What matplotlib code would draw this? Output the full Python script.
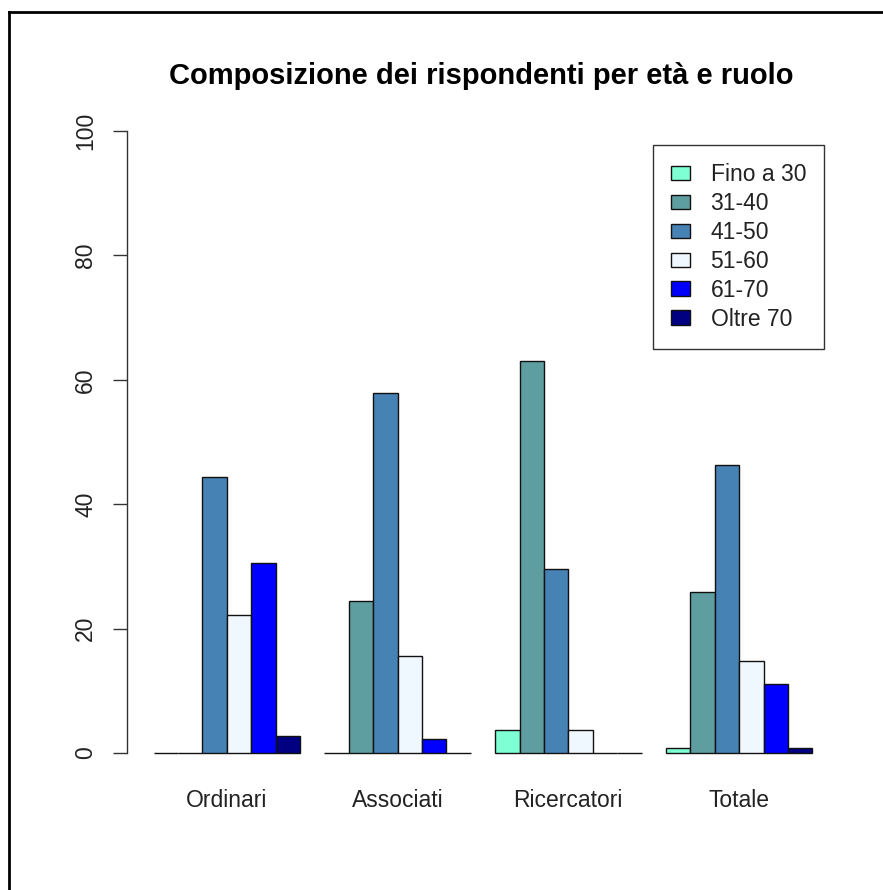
import matplotlib
matplotlib.use("Agg")
import matplotlib.pyplot as plt
import numpy as np

plt.rcParams['font.family'] = ['Liberation Sans', 'DejaVu Sans']

title = "Composizione dei rispondenti per età e ruolo"
categories = ["Ordinari", "Associati", "Ricercatori", "Totale"]
age_groups = ["Fino a 30", "31-40", "41-50", "51-60", "61-70", "Oltre 70"]
colors = ["#7FFFD4", "#5F9EA0", "#4682B4", "#F0F8FF", "#0000FF", "#000080"]

# percentages per category (rows: age groups)
fino30 = [0.0, 0.0, 3.7, 0.9]
a31_40 = [0.0, 24.4, 63.0, 25.9]
a41_50 = [44.4, 57.8, 29.6, 46.3]
a51_60 = [22.2, 15.6, 3.7, 14.8]
a61_70 = [30.6, 2.2, 0.0, 11.1]
oltre70 = [2.8, 0.0, 0.0, 0.9]
series = [fino30, a31_40, a41_50, a51_60, a61_70, oltre70]
yticks = [0, 20, 40, 60, 80, 100]

W, H = 883, 890
fig = plt.figure(figsize=(W / 100, H / 100), dpi=100)

# axes placement in pixels
ax_left, ax_right, ax_top, ax_bottom = 126.5, 838, 106, 778
ax = fig.add_axes([ax_left / W, 1 - ax_bottom / H,
                   (ax_right - ax_left) / W, (ax_bottom - ax_top) / H])

n_groups = len(categories)
n_series = len(series)
group_starts = np.arange(n_groups) * (n_series + 1) + 1.0
for i, (vals, c) in enumerate(zip(series, colors)):
    x = group_starts + i
    ax.bar(x, vals, width=1.0, align='edge', color=c, edgecolor='#111111',
           linewidth=1.0, label=age_groups[i])

bar_px = 24.4
xl = 1 - (153.5 - ax_left) / bar_px
xr = xl + (ax_right - ax_left) / bar_px
ax.set_xlim(xl, xr)
ax.set_ylim(-4, 104)

for s in ['top', 'right', 'bottom']:
    ax.spines[s].set_visible(False)
ax.spines['left'].set_bounds(0, 100)
ax.spines['left'].set_color('#333333')
ax.spines['left'].set_linewidth(1.0)

ax.set_yticks(yticks)
ax.set_yticklabels([str(t) for t in yticks], rotation=90, va='center',
                   fontsize=16.5, color='#222222')
ax.tick_params(axis='y', length=14 * 0.72, width=1.0, color='#333333', pad=11)

ax.set_xticks(group_starts + n_series / 2)
ax.set_xticklabels(categories, fontsize=16.5, color='#222222')
ax.tick_params(axis='x', length=0, pad=8)

leg = ax.legend(loc='upper left', bbox_to_anchor=((653 - ax_left) / (ax_right - ax_left),
                                                  1 - (145 - ax_top) / (ax_bottom - ax_top)),
                fontsize=16.5, frameon=True, fancybox=False, shadow=False,
                handlelength=0.85, handleheight=0.58, handletextpad=0.88,
                labelspacing=0.26, borderpad=0.78, borderaxespad=0.0)
leg.get_frame().set_edgecolor('black')
leg.get_frame().set_linewidth(1.0)
for t in leg.get_texts():
    t.set_color('#222222')

fig.text(481 / W, 1 - 76 / H, title, ha='center', va='center',
         fontsize=21, fontweight='bold')

# outer frame lines (top and left)
fig.add_artist(plt.Line2D([9 / W, 1], [1 - 12 / H, 1 - 12 / H], color='black', linewidth=2.0))
fig.add_artist(plt.Line2D([9 / W, 9 / W], [0, 1 - 12 / H], color='black', linewidth=2.0))

fig.savefig("out.png", dpi=100)
